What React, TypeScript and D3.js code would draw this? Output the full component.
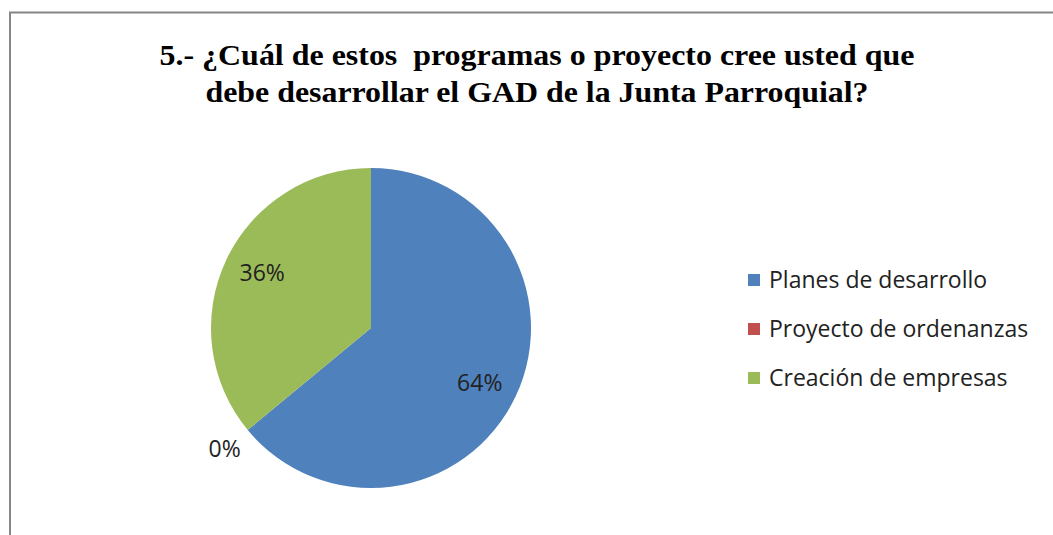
import React from "react";
import * as d3 from "d3";

const categories = ["Planes de desarrollo", "Proyecto de ordenanzas", "Creación de empresas"];
const values = [64, 0, 36];
const labels = ["64%", "0%", "36%"];
const colors = ["#4F81BD", "#C0504D", "#9BBB59"];
const titleLines = [
  "5.- ¿Cuál de estos  programas o proyecto cree usted que",
  "debe desarrollar el GAD de la Junta Parroquial?",
];

export default function App() {
  const W = 1053, H = 535;
  const cx = 371, cy = 328, r = 160;
  const pie = d3.pie<number>().sort(null).startAngle(0).endAngle(2 * Math.PI)(values);
  const arc = d3.arc<d3.PieArcDatum<number>>().innerRadius(0).outerRadius(r);
  const labelPos = (d: d3.PieArcDatum<number>) => {
    const a = (d.startAngle + d.endAngle) / 2 + (d.value === 0 ? 0 : 0.03);
    const rr = d.value === 0 ? 190 : 122;
    return [Math.sin(a) * rr, -Math.cos(a) * rr];
  };
  const legendY = d3.scalePoint<string>().domain(categories).range([280, 378]);
  const bodyFont = "'Open Sans', Lato, sans-serif";
  return (
    <svg width={W} height={H} style={{ position: "absolute", left: 0, top: 0, background: "#fff" }}>
      <rect x={10} y={12.5} width={1100} height={600} fill="#fff" stroke="#868686" strokeWidth={2} />
      {titleLines.map((t, i) => (
        <text key={i} x={537} y={65 + i * 37} textAnchor="middle" style={{ whiteSpace: "pre" }}
          fontFamily="'Liberation Serif', 'Times New Roman', serif" fontWeight="bold" fontSize={30}
          textLength={i === 0 ? 755 : 663} lengthAdjust="spacingAndGlyphs" fill="#000">{t}</text>
      ))}
      <g transform={`translate(${cx},${cy})`}>
        {pie.map((d, i) => (
          <path key={i} d={arc(d) || ""} fill={colors[i]} />
        ))}
        {pie.map((d, i) => {
          const [x, y] = labelPos(d);
          return (
            <text key={i} x={x} y={y} dy="0.35em" textAnchor="middle" fontFamily={bodyFont}
              fontSize={23} fill="#222">{labels[i]}</text>
          );
        })}
      </g>
      {categories.map((c, i) => (
        <g key={c} transform={`translate(748,${legendY(c)})`}>
          <rect x={0} y={-6} width={12} height={12} fill={colors[i]} />
          <text x={21} y={0} dy="0.35em" fontFamily={bodyFont} fontSize={23} fill="#222">{c}</text>
        </g>
      ))}
    </svg>
  );
}
